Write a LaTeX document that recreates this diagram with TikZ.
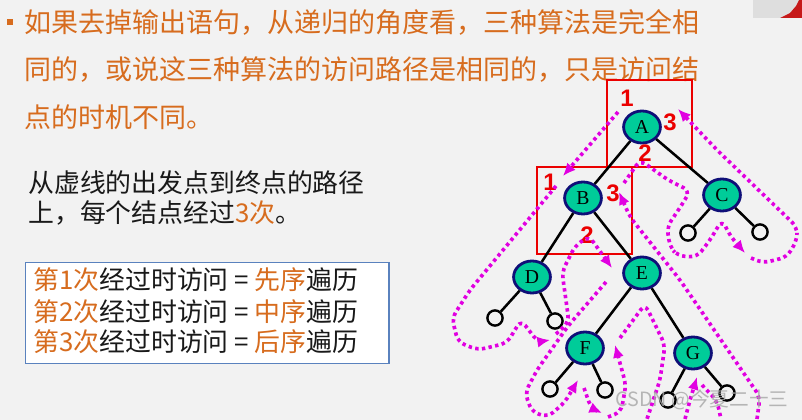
\documentclass[tikz,border=0pt]{standalone}
\usepackage{fontspec}
\setmainfont{Noto Sans CJK SC}
\newfontfamily\letterfont{Liberation Serif}
\newfontfamily\digitfont{Liberation Sans}
\usetikzlibrary{shapes.geometric,arrows.meta}
\usepackage{xcolor}
\definecolor{bgSlide}{RGB}{242, 242, 242}
\definecolor{colOrange}{RGB}{215, 108, 30}
\definecolor{colTeal}{RGB}{0, 204, 153}
\definecolor{colNavy}{RGB}{15, 15, 120}
\definecolor{colRed}{RGB}{235, 0, 0}
\definecolor{colPath}{RGB}{225, 0, 225}
\definecolor{boxBlue}{RGB}{90, 130, 190}
\definecolor{darkText}{RGB}{25, 25, 25}
\newcommand{\orng}[1]{\textcolor{colOrange}{#1}}

\begin{document}
\begin{tikzpicture}[x=0.025cm, y=-0.025cm, >={Latex[length=9pt,width=8pt]}]

  % Slide background (pixel grid, 802 x 420)
  \fill[bgSlide] (0,0) rectangle (802,420);
  \useasboundingbox (0,0) rectangle (802,420);

  % Corner of the video overlay
  \fill[black!13] (753,0) rectangle (802,18);
  \fill[red!75!black!90] (780,18) -- (790,13) -- (796,6) -- (799,0) -- (802,0) -- (802,18) -- cycle;

  \tikzset{
    slidetext/.style={anchor=west, inner sep=0pt, font=\fontsize{19.2pt}{19.2pt}\selectfont},
    bodytext/.style={anchor=west, inner sep=0pt, text=darkText, font=\fontsize{18.4pt}{18.4pt}\selectfont},
    treenode/.style={ellipse, draw=colNavy, line width=2pt, fill=colTeal,
      minimum width=0.92cm, minimum height=0.8cm, inner sep=0pt,
      font=\letterfont\fontsize{14pt}{14pt}\selectfont},
    leaf/.style={circle, draw=black, line width=1.7pt, minimum size=0.38cm, inner sep=0pt},
    branch/.style={line width=1.8pt, black},
    visit/.style={text=colRed, inner sep=0pt, font=\digitfont\bfseries\fontsize{17pt}{17pt}\selectfont},
    subtree/.style={draw=colRed, line width=1.8pt},
    walk/.style={colPath, line width=2.6pt, dash pattern=on 2.4pt off 2.4pt, rounded corners=5pt}
  }

  % --- Text on the left ---
  \fill[colOrange] (7,19) rectangle (13,25);
  \node[slidetext, text=colOrange] (l1) at (24,22)  {如果去掉输出语句，从递归的角度看，三种算法是完全相};
  \node[slidetext, text=colOrange] (l2) at (24,70)  {同的，或说这三种算法的访问路径是相同的，只是访问结};
  \node[slidetext, text=colOrange] (l3) at (24,117) {点的时机不同。};

  \node[bodytext] (p1) at (28,183) {从虚线的出发点到终点的路径};
  \node[bodytext] (p2) at (28,213) {上，每个结点经过\orng{3次}。};

  \node[draw=boxBlue, fill=white, line width=1pt, anchor=north west,
        minimum width=9.075cm, minimum height=2.525cm] (rule) at (25,262) {};
  \node[bodytext] (r1) at (33,280) {\orng{第1次}经过时访问 = \orng{先序}遍历};
  \node[bodytext] (r2) at (33,312) {\orng{第2次}经过时访问 = \orng{中序}遍历};
  \node[bodytext] (r3) at (33,342) {\orng{第3次}经过时访问 = \orng{后序}遍历};

  % --- Red boxes round A and B ---
  \draw[subtree] (607,80) rectangle (692,167);
  \draw[subtree] (537,167) rectangle (632,254);

  % --- Tree ---
  \node[treenode] (A) at (642,127) {A};
  \node[treenode] (B) at (583,198) {B};
  \node[treenode] (C) at (722,195) {C};
  \node[treenode] (D) at (532,277) {D};
  \node[treenode] (E) at (642,273) {E};
  \node[treenode] (F) at (585,348) {F};
  \node[treenode] (G) at (693,353) {G};

  \node[leaf] (Cl) at (688,233) {};
  \node[leaf] (Cr) at (760,232) {};
  \node[leaf] (Dl) at (495,318) {};
  \node[leaf] (Dr) at (555,321) {};
  \node[leaf] (Fl) at (550,389) {};
  \node[leaf] (Fr) at (605,390) {};
  \node[leaf] (Gl) at (668,400) {};
  \node[leaf] (Gr) at (727,393) {};

  \draw[branch] (A) -- (B);
  \draw[branch] (A) -- (C);
  \draw[branch] (B) -- (D);
  \draw[branch] (B) -- (E);
  \draw[branch] (E) -- (F);
  \draw[branch] (E) -- (G);
  \draw[branch] (C) -- (Cl);
  \draw[branch] (C) -- (Cr);
  \draw[branch] (D) -- (Dl);
  \draw[branch] (D) -- (Dr);
  \draw[branch] (F) -- (Fl);
  \draw[branch] (F) -- (Fr);
  \draw[branch] (G) -- (Gl);
  \draw[branch] (G) -- (Gr);

  % Visit numbers
  \node[visit] (a1) at (627,98)  {1};
  \node[visit] (a3) at (670,122) {3};
  \node[visit] (a2) at (645,153) {2};
  \node[visit] (b1) at (550,182) {1};
  \node[visit] (b3) at (613,193) {3};
  \node[visit] (b2) at (587,235) {2};

  % --- Dotted walk round the tree ---
  \draw[walk,->] (618,112) -- (563,176);
  \draw[walk,->] (556,186) -- (470,290) -- (452,318) -- (458,342) -- (478,350)
    -- (507,343) -- (521,320) -- (538,342) -- (550,340);
  \draw[walk,->] (556,334) -- (569,322) -- (562,272) -- (575,246) -- (589,236) -- (612,268);
  \draw[walk,->] (606,282) -- (568,326) -- (537,370) -- (525,393) -- (532,412)
    -- (548,417) -- (565,402) -- (578,380);
  \draw[walk,->] (584,388) -- (591,408) -- (602,413);
  \draw[walk,->] (608,417) -- (621,412) -- (626,385) -- (615,345);
  \draw[walk] (620,338) -- (645,304) -- (665,345) -- (660,380) -- (647,419);
  \draw[walk,->] (685,419) -- (690,400) -- (697,377);
  \draw[walk] (702,385) -- (717,401) -- (721,419);
  \draw[walk,->] (757,419) -- (760,397) -- (680,280) -- (630,217) -- (619,192);
  \draw[walk,->] (624,183) -- (640,160) -- (668,180) -- (690,191) -- (683,203)
    -- (667,227) -- (670,247) -- (678,256) -- (697,257) -- (710,240) -- (722,220)
    -- (731,237) -- (745,253);
  \draw[walk,->] (751,258) -- (763,263) -- (787,257) -- (797,240) -- (797,227)
    -- (717,150) -- (678,109);

  % Watermark
  \node[text=gray!70, opacity=0.8, inner sep=0pt, font=\fontsize{14pt}{14pt}\selectfont]
    (mark) at (702,400) {CSDN @今夏二十三};

\end{tikzpicture}
\end{document}
